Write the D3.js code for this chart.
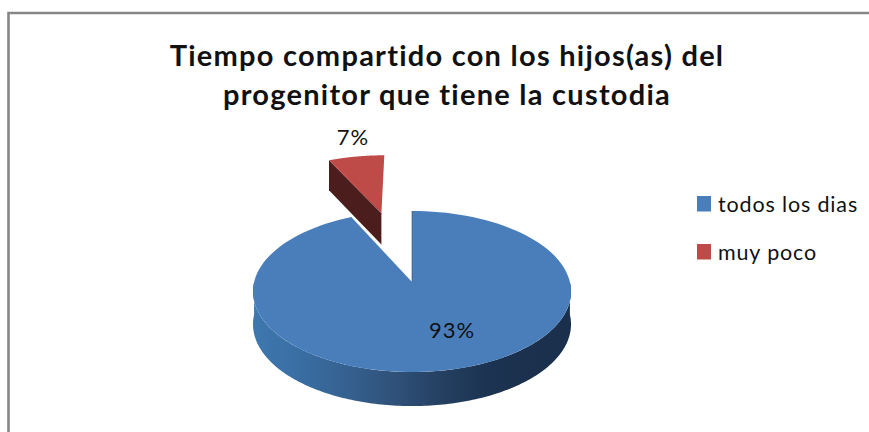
<!DOCTYPE html>
<html>
<head>
<meta charset="utf-8">
<script src="https://cdn.jsdelivr.net/npm/d3@7"></script>
<style>
   html, body { margin: 0; padding: 0; background: #fff; overflow: hidden; }
   text { font-family: Lato, "Open Sans", sans-serif; fill: #111; font-variant-ligatures: none; }
</style>
</head>
<body>
<div id="chartContainer"></div>
<script>
const CATEGORIES = ["todos los dias", "muy poco"];
const VALUES = [93, 7];
const TITLE_LINES = ["Tiempo compartido con los hijos(as) del", "progenitor que tiene la custodia"];
const COLORS = ["#4a7ebb", "#be4b48"];

const WIDTH = 869;
const HEIGHT = 432;
// pie sits on a tilted plane, apex of the untouched slice is here
const APEX_X = 412;
const APEX_Y = 282;
const KX = 157.9;
const KY = 79.4;
const PERSPECTIVE = 0.118;
const EXPLODE = [0, 0.99];

const svg = d3.select("#chartContainer")
   .append("svg")
   .attr("width", WIDTH)
   .attr("height", HEIGHT)
   .style("display", "block");

const defs = svg.append("defs");
const sideGradient = defs.append("linearGradient")
   .attr("id", "sideBlue")
   .attr("gradientUnits", "userSpaceOnUse")
   .attr("x1", 254).attr("x2", 572).attr("y1", 0).attr("y2", 0);
[[0, "#3e78ae"], [0.12, "#3a70a6"], [0.3, "#35608f"], [0.45, "#2f5078"], [0.6, "#243f60"], [0.75, "#1b3250"], [1, "#1a2f4b"]]
   .forEach(s => sideGradient.append("stop").attr("offset", s[0]).attr("stop-color", s[1]));

// chart frame, only top and left show up in the crop
svg.append("path")
   .attr("d", `M8.5 432V13H869`)
   .attr("fill", "none")
   .attr("stroke", "#868686")
   .attr("stroke-width", 2.6);

const color = d3.scaleOrdinal(CATEGORIES, COLORS);
const slices = d3.pie().sort(null).value(d => d)(VALUES);

// point on the unit disc (u right, v down) to the screen
const project = (u, v, drop) => {
   const w = 1 - PERSPECTIVE * v;
   const depth = drop ? 32.6 + 1.4 * v : 0;
   return [APEX_X + u * KX / w, APEX_Y + v * KY / w + depth];
};
const rimPoint = (angle, offset, drop) =>
   project(Math.sin(angle) + offset[0], -Math.cos(angle) + offset[1], drop);

const line = d3.line();
const arcAngles = (d, n) => d3.range(n + 1).map(i => d.startAngle + (d.endAngle - d.startAngle) * i / n);

const slicePath = (d, offset) => {
   const pts = [project(offset[0], offset[1], false)];
   arcAngles(d, 120).forEach(a => pts.push(rimPoint(a, offset, false)));
   return line(pts) + "Z";
};

const offsetOf = (d) => {
   if (d.index === 0) return [0, 0];
   const mid = (d.startAngle + d.endAngle) / 2;
   return [Math.sin(mid) * EXPLODE[1], -Math.cos(mid) * EXPLODE[1]];
};

// outer wall of the big slice, the part of the rim that faces the viewer
const frontAngles = d3.range(0, 181).map(i => Math.PI / 2 + (Math.PI * i) / 180);
const wall = [...frontAngles.map(a => rimPoint(a, [0, 0], false)),
   ...frontAngles.slice().reverse().map(a => rimPoint(a, [0, 0], true))];
svg.append("path")
   .attr("d", line(wall) + "Z")
   .attr("fill", "url(#sideBlue)");

// cut wall of the small slice
const small = slices[1];
const smallOffset = offsetOf(small);
const cutWall = [
   rimPoint(small.startAngle, smallOffset, false),
   project(smallOffset[0], smallOffset[1], false),
   project(smallOffset[0], smallOffset[1], true),
   rimPoint(small.startAngle, smallOffset, true)
];
svg.append("path")
   .attr("d", line(cutWall) + "Z")
   .attr("fill", "#4b1d1c");

svg.selectAll("path.top")
   .data(slices)
   .join("path")
   .attr("class", "top")
   .attr("d", d => slicePath(d, offsetOf(d)))
   .attr("fill", d => color(CATEGORIES[d.index]));

// thin dark edge of the notch
svg.append("path")
   .attr("d", line([rimPoint(0, [0, 0], false), project(0, 0, false)]))
   .attr("stroke", "#2c4d75")
   .attr("stroke-width", 0.6)
   .attr("fill", "none");

// title
svg.selectAll("text.title")
   .data(TITLE_LINES)
   .join("text")
   .attr("class", "title")
   .attr("x", 447)
   .attr("y", (d, i) => 66 + i * 39)
   .attr("text-anchor", "middle")
   .attr("font-size", "29px")
   .attr("letter-spacing", "1.25px")
   .attr("font-weight", "bold")
   .text(d => d);

// data labels
const labels = [[353, 145], [452, 338]];
svg.selectAll("text.pct")
   .data(slices)
   .join("text")
   .attr("class", "pct")
   .attr("x", (d, i) => labels[1 - i][0])
   .attr("y", (d, i) => labels[1 - i][1])
   .attr("text-anchor", "middle")
   .attr("font-size", "22px")
   .attr("letter-spacing", "1px")
   .text(d => `${d.value}%`);

// legend
const legendItem = svg.selectAll("g.legend")
   .data(CATEGORIES)
   .join("g")
   .attr("class", "legend")
   .attr("transform", (d, i) => `translate(697, ${196 + i * 48})`);
legendItem.append("rect")
   .attr("width", 14)
   .attr("height", 15.5)
   .attr("fill", d => color(d));
legendItem.append("text")
   .attr("x", 21)
   .attr("y", 15.5)
   .attr("font-size", "21.5px")
   .attr("letter-spacing", "0.85px")
   .text(d => d);
</script>
</body>
</html>
